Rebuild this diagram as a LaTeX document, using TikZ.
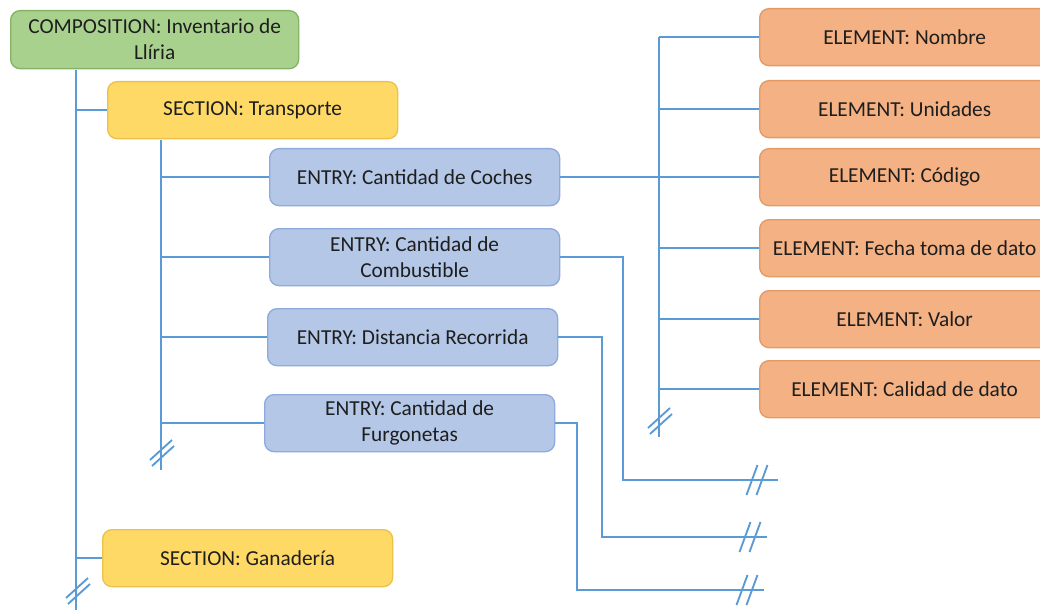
\documentclass[tikz,border=0pt]{standalone}
\usepackage{fontspec}
\setmainfont{Carlito}
\definecolor{linkblue}{HTML}{5B9BD5}
\definecolor{compfill}{HTML}{A9D18E}
\definecolor{compedge}{HTML}{86B365}
\definecolor{secfill}{HTML}{FFD966}
\definecolor{secedge}{HTML}{EBC24A}
\definecolor{entfill}{HTML}{B4C7E7}
\definecolor{entedge}{HTML}{8FAADC}
\definecolor{elemfill}{HTML}{F4B183}
\definecolor{elemedge}{HTML}{E39A66}
\definecolor{ink}{HTML}{1E1E1E}
\tikzset{
  box/.style={draw, line width=1pt, rounded corners=7pt, anchor=north west,
    inner sep=2pt, align=center, text=ink, font=\fontsize{16}{19.5}\selectfont},
  compbox/.style={box, fill=compfill, draw=compedge, minimum width=288*0.75pt, minimum height=58*0.75pt},
  secbox/.style={box, fill=secfill, draw=secedge, minimum width=290*0.75pt, minimum height=57*0.75pt},
  entbox/.style={box, fill=entfill, draw=entedge, minimum width=290*0.75pt, minimum height=57*0.75pt},
  elembox/.style={box, fill=elemfill, draw=elemedge, minimum width=290*0.75pt, minimum height=57*0.75pt},
  link/.style={draw=linkblue, line width=1.6pt},
  vbreak/.pic={\draw[link, line width=1.4pt] (-11,10) -- (11,-10) (-9,16) -- (13,-4);},
  hbreak/.pic={\draw[link, line width=1.4pt] (-5.5,15) -- (5.5,-15) (4.5,15) -- (15.5,-15);}
}
\begin{document}
\begin{tikzpicture}[x=0.75pt, y=-0.75pt]
\clip (0,0) rectangle (1040,610);
\fill[white] (0,0) rectangle (1040,610);

% hierarchy boxes
\node[compbox] (comp) at (10,10) {COMPOSITION: Inventario de\\Llíria};
\node[secbox] (transp) at (107,81) {SECTION: Transporte};
\node[secbox] (ganad) at (102,529) {SECTION: Ganadería};
\node[entbox] (coches) at (269,148) {ENTRY: Cantidad de Coches};
\node[entbox] (combus) at (269,228) {ENTRY: Cantidad de\\Combustible};
\node[entbox] (dist) at (267,308) {ENTRY: Distancia Recorrida};
\node[entbox] (furgo) at (264,394) {ENTRY: Cantidad de\\Furgonetas};

\node[elembox] (nombre) at (759,8) {ELEMENT: Nombre};
\node[elembox] (unid) at (759,80) {ELEMENT: Unidades};
\node[elembox] (codigo) at (759,148) {ELEMENT: Código};
\node[elembox] (fecha) at (759,219) {ELEMENT: Fecha toma de dato};
\node[elembox] (valor) at (759,290) {ELEMENT: Valor};
\node[elembox] (calidad) at (759,360) {ELEMENT: Calidad de dato};

% free ends of the trunks
\coordinate (ctop) at (76,70);
\coordinate (cend) at (76,610);
\coordinate (stop) at (161,140);
\coordinate (send) at (161,470);
\coordinate (etop) at (659,37);
\coordinate (eend) at (659,437);
\coordinate (combturn) at (623,480);
\coordinate (combend) at (778,480);
\coordinate (distturn) at (602,537);
\coordinate (distend) at (767,537);
\coordinate (furgturn) at (577,590);
\coordinate (furgend) at (764,590);

% composition trunk
\draw[link] (ctop) -- (cend);
\draw[link] (ctop |- transp.west) -- (transp.west);
\draw[link] (ctop |- ganad.west) -- (ganad.west);
\pic at (77,588) {vbreak};

% section trunk
\draw[link] (stop) -- (send);
\foreach \e in {coches, combus, dist, furgo}
  \draw[link] (stop |- \e.west) -- (\e.west);
\pic at (161,450) {vbreak};

% element trunk
\draw[link] (etop) -- (eend);
\draw[link] (coches.east) -- (etop |- coches.east);
\foreach \e in {nombre, unid, codigo, fecha, valor, calidad}
  \draw[link] (etop |- \e.west) -- (\e.west);
\pic at (659,418) {vbreak};

% open-ended entry links
\draw[link] (combus.east) -| (combturn) -- (combend);
\pic at (752,480) {hbreak};
\draw[link] (dist.east) -| (distturn) -- (distend);
\pic at (745,537) {hbreak};
\draw[link] (furgo.east) -| (furgturn) -- (furgend);
\pic at (742,590) {hbreak};
\end{tikzpicture}
\end{document}
